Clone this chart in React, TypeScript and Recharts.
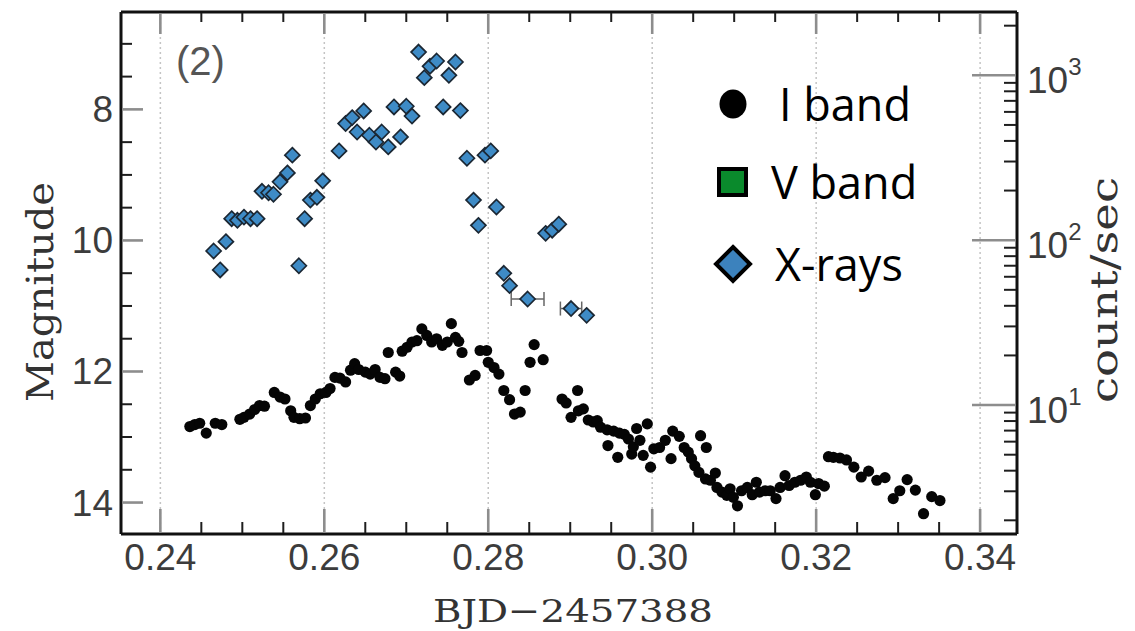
import React from 'react';
import { ScatterChart, Scatter, XAxis, YAxis, ReferenceLine, ErrorBar, Legend } from 'recharts';

const W = 1135;
const H = 631;

// ---------- data ----------
const iBandTime = [
  0.2436, 0.2442, 0.2448, 0.2456, 0.2467, 0.2475, 0.2497, 0.2502, 0.2509, 0.2515,
  0.2521, 0.2527, 0.2539, 0.2546, 0.2552, 0.2559, 0.2563, 0.2570, 0.2577, 0.2583,
  0.2589, 0.2595, 0.2602, 0.2607, 0.2613, 0.2619, 0.2626, 0.2632, 0.2637, 0.2642,
  0.2650, 0.2656, 0.2662, 0.2668, 0.2674, 0.2678, 0.2687, 0.2692, 0.2695, 0.2701,
  0.2707, 0.2713, 0.2719, 0.2725, 0.2731, 0.2737, 0.2744, 0.2750, 0.2755, 0.2760,
  0.2764, 0.2768, 0.2777, 0.2784, 0.2790, 0.2798, 0.2800, 0.2807, 0.2813, 0.2819,
  0.2826, 0.2832, 0.2839, 0.2845, 0.2851, 0.2856, 0.2867, 0.2890, 0.2895, 0.2901,
  0.2909, 0.2910, 0.2916, 0.2922, 0.2928, 0.2933, 0.2937, 0.2945, 0.2946, 0.2953,
  0.2958, 0.2960, 0.2966, 0.2971, 0.2975, 0.2977, 0.2981, 0.2985, 0.2989, 0.2994,
  0.2998, 0.3002, 0.3009, 0.3016, 0.3023, 0.3025, 0.3033, 0.3039, 0.3044, 0.3048,
  0.3052, 0.3059, 0.3066, 0.3057, 0.3065, 0.3071, 0.3077, 0.3079, 0.3085, 0.3091,
  0.3095, 0.3099, 0.3104, 0.3109, 0.3116, 0.3122, 0.3127, 0.3131, 0.3138, 0.3144,
  0.3151, 0.3156, 0.3162, 0.3167, 0.3174, 0.3181, 0.3188, 0.3193, 0.3199, 0.3203,
  0.3210, 0.3215, 0.3221, 0.3229, 0.3237, 0.3246, 0.3255, 0.3264, 0.3274, 0.3284,
  0.3294, 0.3302, 0.3311, 0.3321, 0.3331, 0.3341, 0.3351,
];
const iBandMag = [
  12.84, 12.81, 12.79, 12.94, 12.79, 12.81, 12.73, 12.70, 12.65, 12.58,
  12.52, 12.53, 12.32, 12.39, 12.42, 12.60, 12.70, 12.72, 12.71, 12.52,
  12.42, 12.34, 12.32, 12.26, 12.09, 12.10, 12.16, 11.98, 11.88, 11.97,
  12.01, 12.04, 11.97, 12.09, 12.11, 11.71, 12.01, 12.07, 11.69, 11.63,
  11.55, 11.53, 11.35, 11.45, 11.55, 11.50, 11.60, 11.55, 11.27, 11.48,
  11.54, 11.71, 12.13, 12.06, 11.68, 11.68, 11.86, 11.94, 12.04, 12.29,
  12.43, 12.65, 12.62, 12.29, 11.86, 11.59, 11.82, 12.42, 12.48, 12.70,
  12.29, 12.60, 12.57, 12.74, 12.77, 12.75, 12.85, 12.89, 13.13, 12.91,
  13.31, 12.94, 12.96, 13.03, 13.26, 13.15, 12.87, 13.05, 13.28, 12.80,
  13.46, 13.18, 13.16, 13.05, 13.33, 12.91, 12.99, 13.16, 13.23, 13.33,
  13.44, 12.98, 13.16, 13.54, 13.64, 13.66, 13.55, 13.77, 13.84, 13.89,
  13.79, 13.92, 14.05, 13.82, 13.77, 13.88, 13.69, 13.84, 13.82, 13.82,
  13.94, 13.77, 13.59, 13.74, 13.69, 13.66, 13.61, 13.69, 13.88, 13.71,
  13.75, 13.30, 13.31, 13.32, 13.35, 13.46, 13.61, 13.52, 13.66, 13.62,
  13.94, 13.82, 13.65, 13.81, 14.17, 13.91, 13.97,
];

const xrayTime = [
  0.2465, 0.2473, 0.2480, 0.2487, 0.2494, 0.2502, 0.2510, 0.2518, 0.2524, 0.2532,
  0.2538, 0.2546, 0.2555, 0.2561, 0.2569, 0.2576, 0.2583, 0.2591, 0.2598, 0.2618,
  0.2626, 0.2634, 0.2640, 0.2648, 0.2655, 0.2663, 0.2670, 0.2678, 0.2685, 0.2693,
  0.2700, 0.2707, 0.2715, 0.2722, 0.2729, 0.2737, 0.2745, 0.2752, 0.2760, 0.2766,
  0.2774, 0.2782, 0.2788, 0.2796, 0.2803, 0.2810, 0.2819, 0.2826, 0.2848, 0.2870,
  0.2878, 0.2886, 0.2901, 0.2920,
];
const xrayRate = [
  86, 66, 98, 135, 132, 138, 135, 135, 198, 194,
  190, 226, 256, 328, 70, 135, 175, 182, 229, 348,
  510, 554, 453, 608, 433, 394, 453, 368, 643, 423,
  649, 566, 1384, 968, 1134, 1221, 643, 1000, 1204, 611,
  314, 175, 123, 328, 348, 159, 63, 53, 44, 110,
  115, 125, 38.5, 35,
];
const xrayTimeErr = [
  0, 0, 0, 0, 0, 0, 0, 0, 0, 0,
  0, 0, 0, 0, 0, 0, 0, 0, 0, 0,
  0, 0, 0, 0, 0, 0, 0, 0, 0, 0,
  0, 0, 0, 0, 0, 0, 0, 0, 0, 0,
  0, 0, 0, 0, 0, 0, 0, 0, 0.002, 0,
  0, 0, 0.0013, 0,
];

const xTicks = [
  0.24, 0.245, 0.25, 0.255, 0.26, 0.265, 0.27, 0.275, 0.28, 0.285, 0.29,
  0.295, 0.3, 0.305, 0.31, 0.315, 0.32, 0.325, 0.33, 0.335, 0.34,
];
const xMajor = [0.24, 0.26, 0.28, 0.3, 0.32, 0.34];
const magTicks = [7, 7.5, 8, 8.5, 9, 9.5, 10, 10.5, 11, 11.5, 12, 12.5, 13, 13.5, 14];
const magMajor = [8, 10, 12, 14];
const rateTicks = [
  2, 3, 4, 5, 6, 7, 8, 9, 10, 20, 30, 40, 50, 60, 70, 80, 90,
  100, 200, 300, 400, 500, 600, 700, 800, 900, 1000, 2000,
];
const rateMajor = [10, 100, 1000];
const legendLabels = ['I band', 'V band', 'X-rays'];
const panelTag = '(2)';
const xLabel = 'BJD\u22122457388';
const yLeftLabel = 'Magnitude';
const yRightLabel = 'count/sec';

const iBandData = iBandTime.map((t, i) => ({ t, mag: iBandMag[i] }));
const xrayData = xrayTime.map((t, i) => ({ t, rate: xrayRate[i], xerr: xrayTimeErr[i] || undefined }));
const vBandData: { t: number; mag: number }[] = [];

// ---------- styling helpers ----------
const TICK_FONT = '"Liberation Sans", Arial, Helvetica, sans-serif';
const SERIF = '"DejaVu Serif", "Liberation Serif", serif';
const LABEL_COLOR = '#3c3c3c';
const MAJOR_STROKE = '#8d8d8d';
const MINOR_STROKE = '#1e1e1e';
const MAJOR_W = 2.6;
const MINOR_W = 2;

const near = (v: number, list: number[]) => list.some((a) => Math.abs(a - v) < 1e-7);

function BottomTick(props: any) {
  const { x, y, payload } = props;
  const v = payload.value;
  const major = near(v, xMajor);
  const len = major ? 25 : 12;
  return (
    <g>
      <path d={`M${x},${y - 1}V${y - len}`} stroke={major ? MAJOR_STROKE : MINOR_STROKE} strokeWidth={major ? MAJOR_W : MINOR_W} fill="none" />
      {major && (
        <text x={x} y={y + 36} textAnchor="middle" fontFamily={TICK_FONT} fontSize={37} fill={LABEL_COLOR}>
          {v.toFixed(2)}
        </text>
      )}
    </g>
  );
}

function TopTick(props: any) {
  const { x, y, payload } = props;
  const major = near(payload.value, xMajor);
  const len = major ? 22 : 10;
  return (
    <g>
      <path d={`M${x},${y + 1}V${y + len}`} stroke={major ? MAJOR_STROKE : MINOR_STROKE} strokeWidth={major ? MAJOR_W : MINOR_W} fill="none" />
    </g>
  );
}

function LeftTick(props: any) {
  const { x, y, payload } = props;
  const v = payload.value;
  const major = near(v, magMajor);
  const len = major ? 22 : 11;
  return (
    <g>
      <path d={`M${x + 1},${y}H${x + len}`} stroke={major ? MAJOR_STROKE : MINOR_STROKE} strokeWidth={major ? MAJOR_W : MINOR_W} fill="none" />
      {major && (
        <text x={x - 8} y={y + 13} textAnchor="end" fontFamily={TICK_FONT} fontSize={37} fill={LABEL_COLOR}>
          {String(v)}
        </text>
      )}
    </g>
  );
}

function RightTick(props: any) {
  const { x, y, payload } = props;
  const v = payload.value;
  const major = near(v, rateMajor);
  const exp = Math.round(Math.log10(v));
  const len = major ? 45 : 13;
  return (
    <g>
      <path d={`M${x - 1},${y}H${x - len}`} stroke={major ? MAJOR_STROKE : MINOR_STROKE} strokeWidth={major ? MAJOR_W : MINOR_W} fill="none" />
      {major && (
        <text x={x + 10} y={y + 18} fontFamily={TICK_FONT} fontSize={37} fill={LABEL_COLOR}>
          10
          <tspan dy={-18} fontSize={24}>{String(exp)}</tspan>
        </text>
      )}
    </g>
  );
}

const IDot = (p: any) => <circle cx={p.cx} cy={p.cy} r={5.6} fill="#050505" />;

const XDiamond = (p: any) => {
  const s = 7.5;
  const { cx, cy } = p;
  return (
    <path
      d={`M${cx},${cy - s}L${cx + s},${cy}L${cx},${cy + s}L${cx - s},${cy}Z`}
      fill="#3e8bc6"
      stroke="#1b2733"
      strokeWidth={1.7}
    />
  );
};

function LegendContent(props: any) {
  const payload: any[] = props.payload && props.payload.length ? props.payload : [];
  const names = payload.length ? payload.map((e) => String(e.value)) : legendLabels;
  const rows = legendLabels.filter((n) => names.includes(n));
  const rowCenters = [104, 182, 264];
  const textX = [779, 771, 775];
  const icon = (name: string, cy: number) => {
    if (name === 'I band') return <ellipse cx={733} cy={cy} rx={13.5} ry={14.5} fill="#000" />;
    if (name === 'V band')
      return <rect x={719} y={cy - 13} width={27} height={26} fill="#0a8a2c" stroke="#000" strokeWidth={4} />;
    return (
      <path
        d={`M733,${cy - 17}L750,${cy}L733,${cy + 17}L716,${cy}Z`}
        fill="#3c82bd"
        stroke="#000"
        strokeWidth={4}
      />
    );
  };
  return (
    <svg width={W} height={300} style={{ position: 'absolute', left: 0, top: 0, overflow: 'visible' }}>
      <text x={176} y={75} fontFamily={TICK_FONT} fontSize={40} fill="#555">
        {panelTag}
      </text>
      {rows.map((name) => {
        const i = legendLabels.indexOf(name);
        const cy = rowCenters[i];
        return (
          <g key={name}>
            {icon(name, cy)}
            <text x={textX[i]} y={cy + 17} fontFamily='"Open Sans", sans-serif' fontSize={45} fill="#000">
              {name}
            </text>
          </g>
        );
      })}
    </svg>
  );
}

const XAxisLabel = () => (
  <text x={573} y={622} textAnchor="middle" fontFamily={SERIF} fontSize={32} fill="#333" textLength={280} lengthAdjust="spacingAndGlyphs">
    {xLabel}
  </text>
);

const LeftAxisLabel = () => (
  <text x={53} y={292} textAnchor="middle" transform="rotate(-90 53 292)" fontFamily={SERIF} fontSize={38} fill="#333" textLength={220} lengthAdjust="spacingAndGlyphs">
    {yLeftLabel}
  </text>
);

const RightAxisLabel = () => (
  <text x={1117} y={290} textAnchor="middle" transform="rotate(-90 1117 290)" fontFamily={SERIF} fontSize={38} fill="#333" textLength={226} lengthAdjust="spacingAndGlyphs">
    {yRightLabel}
  </text>
);

const frameLine = { stroke: '#111', strokeWidth: 3 };

export default function App() {
  return (
    <div style={{ position: 'absolute', left: 0, top: 0, width: W, height: H }}>
      <ScatterChart width={W} height={H} margin={{ top: 11, right: 0, bottom: 0, left: 0 }}>
        <XAxis
          xAxisId="main"
          dataKey="t"
          type="number"
          domain={[0.2352, 0.3445]}
          allowDataOverflow
          ticks={xTicks}
          interval={0}
          height={97}
          tickSize={0}
          tickMargin={0}
          tick={BottomTick}
          axisLine={frameLine}
          tickLine={false}
          label={XAxisLabel}
        />
        <XAxis
          xAxisId="top"
          orientation="top"
          dataKey="t"
          type="number"
          domain={[0.2352, 0.3445]}
          allowDataOverflow
          ticks={xTicks}
          interval={0}
          height={1}
          tickSize={0}
          tickMargin={0}
          tick={TopTick}
          axisLine={frameLine}
          tickLine={false}
        />
        <YAxis
          yAxisId="left"
          dataKey="mag"
          type="number"
          reversed
          domain={[6.514, 14.48]}
          allowDataOverflow
          ticks={magTicks}
          interval={0}
          width={121}
          tickSize={0}
          tickMargin={0}
          tick={LeftTick}
          axisLine={frameLine}
          tickLine={false}
          label={LeftAxisLabel}
        />
        <YAxis
          yAxisId="right"
          orientation="right"
          dataKey="rate"
          type="number"
          scale="log"
          domain={[1.652, 2421]}
          allowDataOverflow
          ticks={rateTicks}
          interval={0}
          width={118}
          tickSize={0}
          tickMargin={0}
          tick={RightTick}
          axisLine={frameLine}
          tickLine={false}
          label={RightAxisLabel}
        />
        {xMajor.map((v) => (
          <ReferenceLine
            key={v}
            x={v}
            xAxisId="main"
            yAxisId="left"
            stroke="#c4c4c4"
            strokeWidth={1.5}
            strokeDasharray="2 3"
          />
        ))}
        <Scatter
          name={legendLabels[0]}
          data={iBandData}
          xAxisId="main"
          yAxisId="left"
          fill="#000"
          shape={IDot}
          isAnimationActive={false}
        />
        <Scatter
          name={legendLabels[1]}
          data={vBandData}
          xAxisId="main"
          yAxisId="left"
          fill="#0a8a2c"
          isAnimationActive={false}
        />
        <Scatter
          name={legendLabels[2]}
          data={xrayData}
          xAxisId="main"
          yAxisId="right"
          fill="#3e8bc6"
          shape={XDiamond}
          isAnimationActive={false}
        >
          <ErrorBar dataKey="xerr" direction="x" width={7} stroke="#666" strokeWidth={1.5} />
        </Scatter>
        <Legend
          layout="vertical"
          align="center"
          verticalAlign="middle"
          content={LegendContent}
          wrapperStyle={{ position: 'absolute', left: 0, top: 0, width: W, height: 300, pointerEvents: 'none' }}
        />
      </ScatterChart>
    </div>
  );
}
